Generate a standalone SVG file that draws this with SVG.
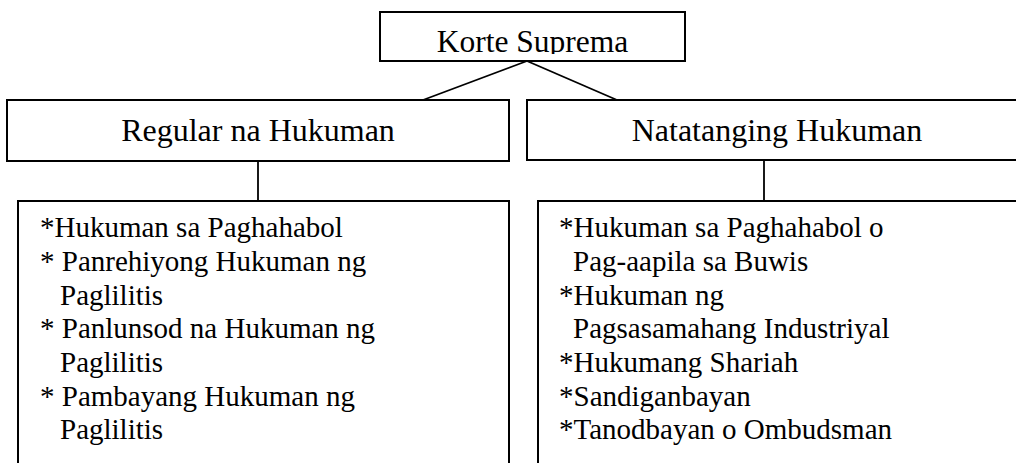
<svg xmlns="http://www.w3.org/2000/svg" width="1016" height="463" viewBox="0 0 1016 463">
<style>
.box{fill:#fff;stroke:#000;stroke-width:2}
.con{stroke:#000;stroke-width:1.8;fill:none}
.h{font-family:"Liberation Serif","Times New Roman",serif;font-size:32px;fill:#000;text-anchor:middle}
.l{font-family:"Liberation Serif","Times New Roman",serif;font-size:29px;fill:#000}
</style>
<defs>
<clipPath id="clipTop"><rect x="381" y="13" width="303" height="41"/></clipPath>
</defs>
<rect width="1016" height="463" fill="#fff"/>
<g id="connectors">
<line class="con" x1="527" y1="61" x2="423" y2="100"/>
<line class="con" x1="527" y1="61" x2="617" y2="100"/>
<line class="con" x1="258" y1="161" x2="258" y2="201"/>
<line class="con" x1="764" y1="161" x2="764" y2="201"/>
</g>
<g id="korte-suprema">
<rect class="box" x="380" y="12" width="305" height="49"/>
<text class="h" x="532.5" y="52" style="font-size:31.5px" clip-path="url(#clipTop)">Korte Suprema</text>
</g>
<g id="regular">
<rect class="box" x="7" y="100" width="502" height="61"/>
<text class="h" x="258" y="141">Regular na Hukuman</text>
</g>
<g id="natatangi">
<rect class="box" x="527" y="100" width="500" height="60"/>
<text class="h" x="777" y="141">Natatanging Hukuman</text>
</g>
<g id="regular-list">
<rect class="box" x="18" y="201" width="491" height="270"/>
<text class="l"><tspan x="40" y="237">*Hukuman sa Paghahabol</tspan><tspan x="40" y="271">* Panrehiyong Hukuman ng</tspan><tspan x="60" y="305">Paglilitis</tspan><tspan x="40" y="338">* Panlunsod na Hukuman ng</tspan><tspan x="60" y="372">Paglilitis</tspan><tspan x="40" y="406">* Pambayang Hukuman ng</tspan><tspan x="60" y="439">Paglilitis</tspan></text>
</g>
<g id="natatangi-list">
<rect class="box" x="538" y="201" width="490" height="270"/>
<text class="l"><tspan x="559" y="237">*Hukuman sa Paghahabol o</tspan><tspan x="573" y="271">Pag-aapila sa Buwis</tspan><tspan x="559" y="305">*Hukuman ng</tspan><tspan x="573" y="338">Pagsasamahang Industriyal</tspan><tspan x="559" y="372">*Hukumang Shariah</tspan><tspan x="559" y="406">*Sandiganbayan</tspan><tspan x="559" y="439">*Tanodbayan o Ombudsman</tspan></text>
</g>
</svg>
